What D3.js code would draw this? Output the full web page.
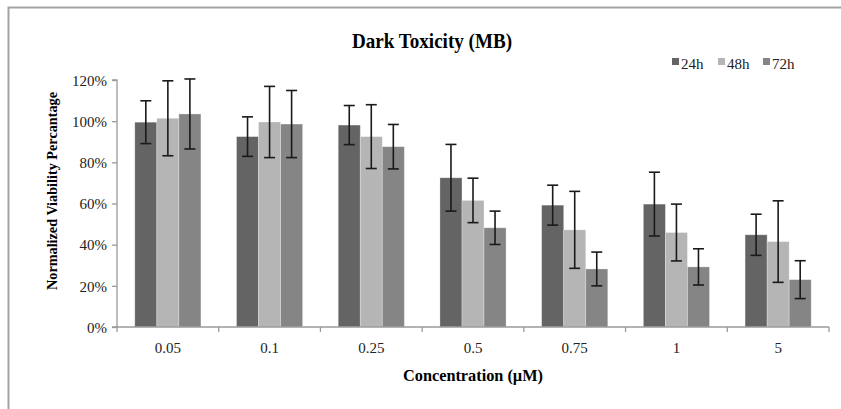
<!DOCTYPE html>
<html>
<head>
<meta charset="utf-8">
<script src="https://cdn.jsdelivr.net/npm/d3@7"></script>
<style>
html,body{margin:0;padding:0;background:#fff;}
svg{display:block;}
</style>
</head>
<body>
<svg id="chart" width="841" height="409" style="font-family:'Liberation Serif','Times New Roman','DejaVu Serif',serif"></svg>
<script>
const categories = ["0.05","0.1","0.25","0.5","0.75","1","5"];
const seriesNames = ["24h","48h","72h"];
const seriesColors = ["#646464","#b5b5b5","#858585"];
const values24 = [99.5, 92.5, 98.1, 72.5, 59.2, 59.7, 44.8];
const errors24 = [10.4, 9.6, 9.5, 16.2, 9.7, 15.5, 10.0];
const values48 = [101.4, 99.6, 92.5, 61.5, 47.2, 45.9, 41.5];
const errors48 = [18.2, 17.3, 15.5, 10.8, 18.7, 13.8, 19.8];
const values72 = [103.5, 98.6, 87.6, 48.2, 28.2, 29.2, 23.0];
const errors72 = [17.0, 16.3, 10.8, 8.1, 8.2, 8.8, 9.2];
const yTicks = [0, 20, 40, 60, 80, 100, 120];

const seriesValues = [values24, values48, values72];
const seriesErrors = [errors24, errors48, errors72];
const FONT = "'Liberation Serif','Times New Roman','DejaVu Serif',serif";

const svg = d3.select("#chart");

// outer frame
svg.append("rect").attr("x", 8.5).attr("y", 7.5).attr("width", 900).attr("height", 500)
  .attr("fill", "none").attr("stroke", "#a3a3a3").attr("stroke-width", 2);

const pLeft = 117, pRight = 829, pTop = 80, pBottom = 327;

const x = d3.scaleBand().domain(categories).range([pLeft, pRight]).padding(0);
const bw = x.bandwidth();
const gap = bw * 0.175;
const x1 = d3.scaleBand().domain(seriesNames).range([gap, bw - gap]).padding(0);
const y = d3.scaleLinear().domain([0, 120]).range([pBottom, pTop]);

// bars
const data = [];
categories.forEach((c, i) => {
  seriesNames.forEach((s, j) => {
    data.push({c, s, j, v: seriesValues[j][i], e: seriesErrors[j][i]});
  });
});

const g = svg.append("g");
g.selectAll("rect.bar").data(data).enter().append("rect")
  .attr("class", "bar")
  .attr("x", d => x(d.c) + x1(d.s))
  .attr("width", x1.bandwidth())
  .attr("y", d => y(d.v))
  .attr("height", d => y(0) - y(d.v))
  .attr("fill", d => seriesColors[d.j])
  .attr("stroke", "rgba(255,255,255,0.35)")
  .attr("stroke-width", 0.8);

// error bars
const capW = 5.5;
const eb = g.selectAll("g.err").data(data).enter().append("g").attr("class", "err")
  .attr("stroke", "#1a1a1a").attr("stroke-width", 1.6);
eb.append("line")
  .attr("x1", d => x(d.c) + x1(d.s) + x1.bandwidth() / 2)
  .attr("x2", d => x(d.c) + x1(d.s) + x1.bandwidth() / 2)
  .attr("y1", d => y(d.v + d.e)).attr("y2", d => y(d.v - d.e));
eb.append("line")
  .attr("x1", d => x(d.c) + x1(d.s) + x1.bandwidth() / 2 - capW)
  .attr("x2", d => x(d.c) + x1(d.s) + x1.bandwidth() / 2 + capW)
  .attr("y1", d => y(d.v + d.e)).attr("y2", d => y(d.v + d.e));
eb.append("line")
  .attr("x1", d => x(d.c) + x1(d.s) + x1.bandwidth() / 2 - capW)
  .attr("x2", d => x(d.c) + x1(d.s) + x1.bandwidth() / 2 + capW)
  .attr("y1", d => y(d.v - d.e)).attr("y2", d => y(d.v - d.e));

// y axis
const yAxis = d3.axisLeft(y).tickValues(yTicks).tickFormat(d => d + "%").tickSize(5).tickPadding(5);
const ya = svg.append("g").attr("transform", `translate(${pLeft},0)`).call(yAxis)
  .attr("font-family", FONT).attr("font-size", 15);
ya.select(".domain").attr("stroke", "#9a9a9a").attr("stroke-width", 1.3).attr("d", `M-5,${pTop}H0V${pBottom}H-5`);
ya.selectAll(".tick line").attr("stroke", "#9a9a9a").attr("stroke-width", 1.3);
ya.selectAll(".tick text").attr("fill", "#222").attr("dy", "0.35em");

// x axis
const xa = svg.append("g").attr("transform", `translate(0,${pBottom})`);
xa.append("line").attr("x1", pLeft).attr("x2", pRight).attr("y1", 0).attr("y2", 0)
  .attr("stroke", "#9a9a9a").attr("stroke-width", 1.3);
const bounds = categories.map(c => x(c)).concat([pRight]);
xa.selectAll("line.tk").data(bounds).enter().append("line").attr("class", "tk")
  .attr("x1", d => d).attr("x2", d => d).attr("y1", 0).attr("y2", 5)
  .attr("stroke", "#9a9a9a").attr("stroke-width", 1.3);
xa.selectAll("text.xl").data(categories).enter().append("text").attr("class", "xl")
  .attr("x", d => x(d) + bw / 2).attr("y", 26)
  .attr("text-anchor", "middle").attr("font-family", FONT).attr("font-size", 15).attr("fill", "#222")
  .text(d => d);

// titles
svg.append("text").attr("x", 432).attr("y", 48).attr("text-anchor", "middle")
  .attr("font-family", FONT).attr("font-size", 21).attr("font-weight", "bold")
  .attr("textLength", 160).attr("lengthAdjust", "spacingAndGlyphs")
  .text("Dark Toxicity (MB)");

svg.append("text").attr("x", 473).attr("y", 381).attr("text-anchor", "middle")
  .attr("font-family", FONT).attr("font-size", 16).attr("font-weight", "bold")
  .attr("textLength", 140).attr("lengthAdjust", "spacingAndGlyphs")
  .text("Concentration (µM)");

svg.append("text").attr("transform", "translate(57,191) rotate(-90)").attr("text-anchor", "middle")
  .attr("font-family", FONT).attr("font-size", 15).attr("font-weight", "bold")
  .attr("textLength", 198).attr("lengthAdjust", "spacingAndGlyphs")
  .text("Normalized Viability Percantage");

// legend
const legX = [672, 718, 763];
const leg = svg.append("g").selectAll("g").data(seriesNames).enter().append("g")
  .attr("transform", (d, i) => `translate(${legX[i]},58)`);
leg.append("rect").attr("width", 7).attr("height", 7).attr("fill", (d, i) => seriesColors[i]);
leg.append("text").attr("x", 9).attr("y", 11).attr("font-family", FONT).attr("font-size", 15).attr("fill", "#222").text(d => d);
</script>
</body>
</html>
